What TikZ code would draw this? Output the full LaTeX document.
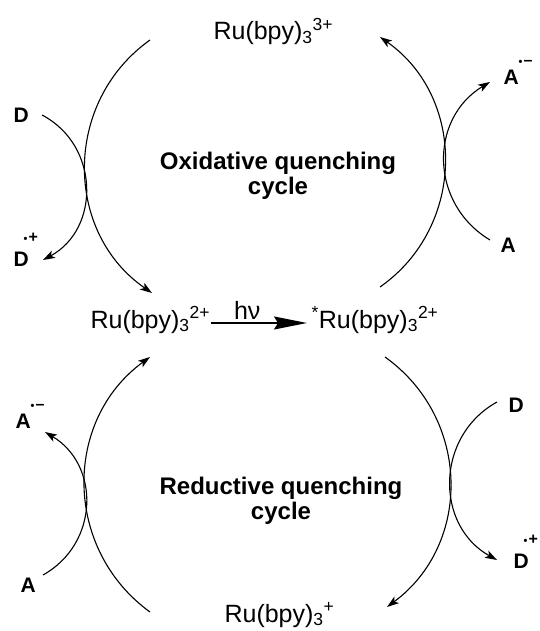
\documentclass[tikz,border=0pt]{standalone}
\usepackage{fontspec}
\setmainfont{Liberation Sans}
\usetikzlibrary{arrows.meta}

\newcommand{\rdot}{{\fontsize{11}{11}\selectfont •}}
\newcommand{\catrad}{\kern-5pt\raisebox{24pt}{\fontsize{16}{16}\selectfont\rdot\kern1pt+}}
\newcommand{\anrad}{\raisebox{19pt}{\fontsize{16}{16}\selectfont\rdot\kern1pt–}}

\begin{document}
\begin{tikzpicture}[
  x=1pt, y=-1pt,
  line width=1.1pt,
  ru/.style={anchor=base west, inner sep=0pt, font=\fontsize{25}{29}\selectfont},
  lab/.style={anchor=base west, inner sep=0pt, font=\bfseries\fontsize{21}{25}\selectfont},
  cyc/.style={align=center, font=\bfseries\fontsize{24}{25}\selectfont},
  tip/.style={-{Stealth[length=12pt,width=8pt,inset=3pt]}},
  big/.style={tip, looseness=1.08},
  small/.style={tip, looseness=1.15},
  light/.style={-{Stealth[length=33pt,width=13pt,inset=4pt]}, line width=1.3pt}
]
\useasboundingbox (0,0) rectangle (539,631);

% complexes
\node[ru] (ru3) at (213,40) {Ru(bpy)\textsubscript{3}\textsuperscript{3+}};
\node[ru] (ru2) at (90,328) {Ru(bpy)\textsubscript{3}\textsuperscript{2+}};
\node[ru] (ru2s) at (311,328) {\textsuperscript{*}Ru(bpy)\textsubscript{3}\textsuperscript{2+}};
\node[ru] (ru1) at (224,622) {Ru(bpy)\textsubscript{3}\textsuperscript{+}};

% donors and acceptors
\node[lab] (dox) at (13,123) {D};
\node[lab] (doxr) at (13,266) {D\catrad};
\node[lab] (aoxr) at (503,85) {A\anrad};
\node[lab] (aox) at (500,252) {A};
\node[lab] (aredr) at (15,428) {A\anrad};
\node[lab] (ared) at (20,592) {A};
\node[lab] (dred) at (508,412) {D};
\node[lab] (dredr) at (513,568) {D\catrad};

\node[cyc] (oxq) at (278,176) {Oxidative quenching\\cycle};
\node[cyc] (redq) at (281,501) {Reductive quenching\\cycle};

% arc ends
\coordinate (ol1) at (150,40);  \coordinate (ol2) at (152,293);
\coordinate (or1) at (380,287); \coordinate (or2) at (380,37);
\coordinate (d1) at (42,115);   \coordinate (d2) at (43,260);
\coordinate (a1) at (490,240);  \coordinate (a2) at (490,82);
\coordinate (rl1) at (150,612); \coordinate (rl2) at (150,357);
\coordinate (rr1) at (385,357); \coordinate (rr2) at (387,607);
\coordinate (a3) at (43,575);   \coordinate (a4) at (45,432);
\coordinate (d3) at (497,402);  \coordinate (d4) at (497,560);

% oxidative cycle
\draw[big] (ol1) to[bend right=55] (ol2);
\draw[big] (or1) to[bend right=55] (or2);
\draw[small] (d1) to[bend left=62] (d2);
\draw[small] (a1) to[bend left=59] (a2);

% reductive cycle
\draw[big] (rl1) to[bend left=54] (rl2);
\draw[big] (rr1) to[bend left=54] (rr2);
\draw[small] (a3) to[bend right=60] (a4);
\draw[small] (d3) to[bend right=61] (d4);

% excitation
\draw[light] ([yshift=5pt]ru2.base east) -- node[pos=0.38, above, font=\fontsize{25}{29}\selectfont] (hnu) {hν} ([xshift=-4pt,yshift=5pt]ru2s.base west);

\end{tikzpicture}
\end{document}
